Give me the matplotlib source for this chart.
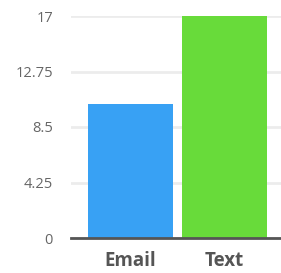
import matplotlib
matplotlib.use("Agg")
import matplotlib.pyplot as plt

categories = ["Email", "Text"]
values = [10.25, 17]
colors = ["#38a1f4", "#68db3a"]
yticks = [0, 4.25, 8.5, 12.75, 17]
ytick_labels = ["0", "4.25", "8.5", "12.75", "17"]

plt.rcParams['font.family'] = ['Open Sans', 'DejaVu Sans']

fig = plt.figure(figsize=(2.81, 2.73), dpi=100)
ax = fig.add_axes([71/281, 35/273, 210/281, 222/273])

x = list(range(len(categories)))
ax.bar(x, values, width=0.904, color=colors, zorder=2)

ax.set_xlim(-0.633, 1.601)
ax.set_ylim(0, 17)
ax.set_yticks(yticks)
ax.set_yticklabels(ytick_labels)
ax.set_xticks(x)
ax.set_xticklabels(categories, fontweight='bold')

ax.yaxis.grid(True, color="#ececec", linewidth=2, zorder=0)
ax.tick_params(axis='y', length=0, pad=13, labelsize=10.5, labelcolor="#666666")
ax.tick_params(axis='x', length=0, pad=9, labelsize=13.5, labelcolor="#555555")

for s in ["top", "right", "left"]:
    ax.spines[s].set_visible(False)
ax.spines["bottom"].set_color("#555555")
ax.spines["bottom"].set_linewidth(2)
ax.spines["bottom"].set_zorder(3)

fig.savefig("out.png", dpi=100)
